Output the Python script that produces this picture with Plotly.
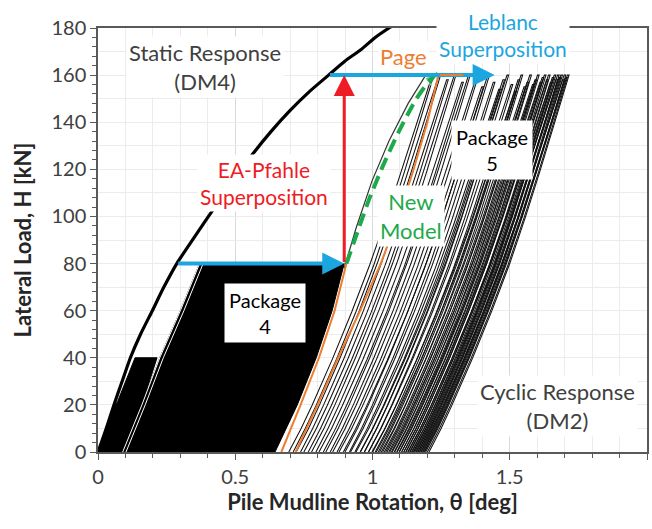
import plotly.graph_objects as go

# ---------------- data ----------------
# Static response (DM4) backbone
static_theta = [0, 0.03, 0.058, 0.088, 0.118, 0.155, 0.198, 0.24, 0.287, 0.35, 0.42,
                0.49, 0.56, 0.63, 0.70, 0.77, 0.84, 0.90, 0.96, 1.01, 1.06, 1.10]
static_H = [0, 10, 20, 30, 40, 50, 60, 70, 80, 91, 103,
            115, 126, 136, 145, 153, 160, 166, 171, 176, 180, 183]

# Package 4 (solid black band of cycles up to 80 kN)
pkg4_theta = [0.09, 0.16, 0.225, 0.30, 0.37, 0.897, 0.853, 0.795, 0.726, 0.645]
pkg4_H = [0, 20, 40, 60, 80, 80, 60, 40, 20, 0]
# small package (40 kN) next to the static curve
pkg3_theta = [0, 0.058, 0.07, 0.135, 0.215, 0.16, 0.09]
pkg3_H = [0, 20, 21, 40, 40, 20, 0]
# white gaps between loops on the left edge of package 4
gap1_theta = [0.09, 0.16, 0.225, 0.30, 0.37]
gap2_theta = [0.102, 0.172, 0.238, 0.313, 0.383]
gap_H = [0, 20, 40, 60, 80]

# Package 5 loops: start rotation and peak load of each loop, and the loop shape
loop_start = [0.695, 0.722, 0.75, 0.778, 0.805, 0.83, 0.855, 0.878, 0.90, 0.92,
              0.94, 0.955, 0.97, 0.985, 0.998, 1.01, 1.021, 1.032, 1.043, 1.053,
              1.063, 1.072, 1.081, 1.09, 1.098, 1.106, 1.114, 1.121, 1.128, 1.135,
              1.142, 1.148, 1.154, 1.16, 1.166, 1.172, 1.178, 1.184, 1.19]
loop_peak = [159, 160, 158, 160, 157, 160, 158, 155, 160, 157,
             154, 158, 160, 156, 153, 158, 160, 155, 157, 160,
             156, 158, 160, 157, 159, 160, 158, 160, 157, 159,
             160, 158, 160, 159, 160, 158, 160, 159, 160]
loop_H = [0, 10, 20, 40, 60, 80, 100, 120, 140, 160]
loop_up = [0, 0.045, 0.085, 0.16, 0.23, 0.295, 0.355, 0.41, 0.465, 0.52]
loop_down = [0.016, 0.06, 0.10, 0.175, 0.245, 0.31, 0.368, 0.422, 0.475, 0.526]

# first loading of package 5 (80 -> 160 kN)
first_theta = [0.897, 0.94, 0.998, 1.06, 1.13, 1.194]
first_H = [78, 95, 115, 132, 148, 160]

# Page model (orange)
pageA_theta = [0.668, 0.738, 0.805, 0.862, 0.905]
pageA_H = [0, 20, 40, 60, 80]
pageB_theta = [0.72, 0.80, 0.875, 0.955, 1.03, 1.095, 1.15, 1.20, 1.24, 1.33]
pageB_H = [0, 20, 40, 60, 80, 100, 120, 140, 160, 160]

# New model (green dashed)
new_theta = [0.905, 0.95, 0.99, 1.04, 1.10, 1.16, 1.21, 1.242]
new_H = [80, 95, 108, 122, 137, 150, 158, 161]

# superposition arrows
ea_theta = [0.897, 0.897]
ea_H = [80, 160]
leblanc4_theta = [0.287, 0.897]
leblanc5_theta = [0.84, 1.445]

BLACK = "#000000"
ORANGE = "#ED7D31"
BLUE = "#1CA6E0"
RED = "#EE1C25"
GREEN = "#1DAA4B"
GREY = "#404040"
FONT = "Lato"

fig = go.Figure()

# package 5 loops
for x0, pk in zip(loop_start, loop_peak):
    xs = [x0 + d for d in loop_up] + [x0 + d for d in loop_down[::-1]]
    hs = [h * pk / 160 for h in loop_H]
    ys = hs + hs[::-1]
    fig.add_trace(go.Scatter(x=xs, y=ys, mode="lines",
                             line=dict(color="#111111", width=1.05),
                             hoverinfo="skip", showlegend=False))

# package 4 + small package
fig.add_trace(go.Scatter(x=pkg4_theta, y=pkg4_H, mode="lines", fill="toself",
                         fillcolor=BLACK, line=dict(color=BLACK, width=1),
                         hoverinfo="skip", showlegend=False))
fig.add_trace(go.Scatter(x=pkg3_theta, y=pkg3_H, mode="lines", fill="toself",
                         fillcolor=BLACK, line=dict(color=BLACK, width=1),
                         hoverinfo="skip", showlegend=False))
for gx in (gap1_theta, gap2_theta):
    fig.add_trace(go.Scatter(x=gx, y=gap_H, mode="lines",
                             line=dict(color="white", width=1),
                             hoverinfo="skip", showlegend=False))

# first loading of package 5
fig.add_trace(go.Scatter(x=first_theta, y=first_H, mode="lines",
                         line=dict(color="#333333", width=1.2),
                         hoverinfo="skip", showlegend=False))

# Page
for px, py in ((pageA_theta, pageA_H), (pageB_theta, pageB_H)):
    fig.add_trace(go.Scatter(x=px, y=py, mode="lines",
                             line=dict(color=ORANGE, width=2),
                             hoverinfo="skip", showlegend=False))

# static response
fig.add_trace(go.Scatter(x=static_theta, y=static_H, mode="lines",
                         line=dict(color=BLACK, width=3.2, shape="spline", smoothing=0.6),
                         hoverinfo="skip", showlegend=False))

# New model (green dashed + arrow head)
fig.add_trace(go.Scatter(x=new_theta, y=new_H, mode="lines",
                         line=dict(color=GREEN, width=4, dash="13px,7px",
                                   shape="spline", smoothing=0.6),
                         hoverinfo="skip", showlegend=False))
fig.add_trace(go.Scatter(x=new_theta[-2:], y=new_H[-2:], mode="markers",
                         marker=dict(symbol="arrow", angleref="previous",
                                     size=[0, 15], color=GREEN),
                         hoverinfo="skip", showlegend=False))

annotations = []
# arrows
annotations.append(dict(x=leblanc4_theta[1], y=80, ax=leblanc4_theta[0], ay=80,
                        xref="x", yref="y", axref="x", ayref="y", text="",
                        showarrow=True, arrowhead=2, arrowsize=1.1,
                        arrowwidth=4, arrowcolor=BLUE))
annotations.append(dict(x=leblanc5_theta[1], y=160, ax=leblanc5_theta[0], ay=160,
                        xref="x", yref="y", axref="x", ayref="y", text="",
                        showarrow=True, arrowhead=2, arrowsize=1.1,
                        arrowwidth=4, arrowcolor=BLUE))
# Page plateau drawn over the blue arrow
annotations.append(dict(x=pageB_theta[-1], y=pageB_H[-1], ax=pageB_theta[-2], ay=pageB_H[-2],
                        xref="x", yref="y", axref="x", ayref="y", text="",
                        showarrow=True, arrowhead=0, arrowwidth=2, arrowcolor=ORANGE))
annotations.append(dict(x=ea_theta[1], y=ea_H[1], ax=ea_theta[0], ay=ea_H[0],
                        xref="x", yref="y", axref="x", ayref="y", text="",
                        showarrow=True, arrowhead=2, arrowsize=1.4,
                        arrowwidth=3, arrowcolor=RED))

def label(text, x, y, color, size=21, xref="x", yref="y", pad=2):
    return dict(text=text, x=x, y=y, xref=xref, yref=yref, showarrow=False,
                xanchor="center", yanchor="middle",
                font=dict(family=FONT, size=size, color=color),
                bgcolor="white", borderpad=pad, align="center")

annotations += [
    label("Static Response<br>(DM4)", 0.388, 163.4, GREY, size=22),
    label("EA-Pfahle<br>Superposition", 0.606, 114.2, RED),
    label("Page", 1.114, 167.7, ORANGE, size=22, pad=1),
    label("Leblanc<br>Superposition", 0.737, 0.983, BLUE, xref="paper", yref="paper"),
    label("Package<br>5", 1.434, 128.2, BLACK, size=20, pad=4),
    label("Package<br>4", 0.61, 59.0, BLACK, size=20, pad=4),
    label("New<br>Model", 1.14, 100.2, GREEN, size=22),
    label("Cyclic Response<br>(DM2)", 1.673, 19.5, GREY, size=22),
]

fig.update_layout(
    width=652, height=529,
    margin=dict(l=98, r=3, t=28, b=77),
    paper_bgcolor="white", plot_bgcolor="white",
    annotations=annotations,
    showlegend=False,
    font=dict(family=FONT, color=GREY),
    xaxis=dict(range=[0, 2], dtick=0.5, tick0=0,
               showgrid=True, gridcolor="#d9d9d9", gridwidth=1,
               minor=dict(dtick=0.1, showgrid=True, gridcolor="#ececec",
                          ticks="outside", ticklen=4, tickcolor="#595959"),
               ticks="outside", ticklen=6, tickcolor="#595959",
               showline=True, linecolor="#595959", linewidth=1.5, mirror=True,
               tickfont=dict(family=FONT, size=20, color=GREY),
               title=dict(text="<b>Pile Mudline Rotation, θ [deg]</b>",
                          font=dict(family=FONT, size=22, color="#262626"),
                          standoff=4),
               zeroline=False),
    yaxis=dict(range=[0, 180], dtick=20, tick0=0,
               showgrid=True, gridcolor="#d9d9d9", gridwidth=1,
               minor=dict(dtick=4, showgrid=False,
                          ticks="outside", ticklen=4, tickcolor="#595959"),
               ticks="outside", ticklen=6, tickcolor="#595959",
               showline=True, linecolor="#595959", linewidth=1.5, mirror=True,
               tickfont=dict(family=FONT, size=20, color=GREY),
               title=dict(text="<b>Lateral Load, H [kN]</b>",
                          font=dict(family=FONT, size=22, color="#262626"),
                          standoff=14),
               zeroline=False),
    yaxis2=dict(range=[0, 180], dtick=10, tick0=0, overlaying="y", side="right",
                showgrid=True, gridcolor="#ececec", showticklabels=False,
                ticks="", showline=False, zeroline=False),
)
# invisible trace to activate the grid axis
fig.add_trace(go.Scatter(x=[None], y=[None], yaxis="y2", showlegend=False,
                         hoverinfo="skip"))

fig.write_html("out.html")
